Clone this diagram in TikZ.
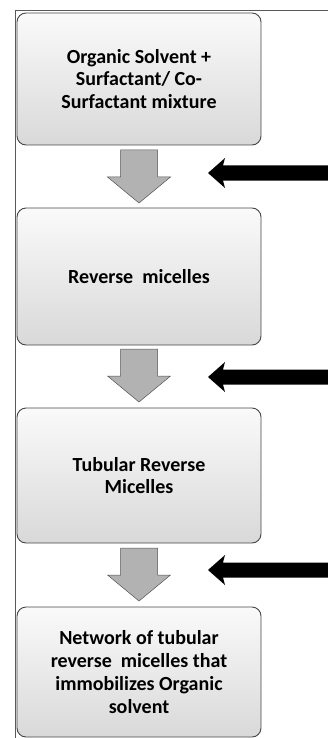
\documentclass[tikz,border=0pt]{standalone}
\usepackage{fontspec}
\setmainfont{Carlito}
\tikzset{
  flowbox/.style={rounded corners=9pt, draw=gray!55!black, line width=0.9pt,
    top color=gray!4, bottom color=gray!30, align=center,
    font=\fontsize{20}{22.8}\selectfont\bfseries, text=black,
    inner sep=0pt, minimum width=244pt},
  framepen/.style={draw=gray!70!black, line width=0.9pt},
  pics/grayarr/.style={code={
    \filldraw[fill=gray!60, draw=gray!65!black, line width=0.5pt]
      (-18.5,0) -- (18.5,0) -- (18.5,27) -- (31.5,27) -- (0,53) -- (-31.5,27) -- (-18.5,27) -- cycle;}},
  pics/blackarr/.style={code={
    \fill[black] (0,0) -- (17,-15) -- (15,-7.5) -- (125,-7.5) -- (125,7.5) -- (15,7.5) -- (17,15) -- cycle;}}
}
\begin{document}
\begin{tikzpicture}[x=1pt,y=-1pt]
\useasboundingbox (0,0) rectangle (328,738);
\coordinate (frTL) at (15,10.5);
\coordinate (frTR) at (328,10.5);
\coordinate (frBL) at (15,738);
\draw[framepen] (frTR) -- (frTL) -- (frBL);

\node[flowbox, minimum height=132pt] (b1) at (139,79) {Organic Solvent +\\Surfactant/ Co-\\Surfactant mixture};
\node[flowbox, minimum height=137pt] (b2) at (139,276.5) {Reverse\ \ micelles};
\node[flowbox, minimum height=135pt] (b3) at (139,475.5) {Tubular Reverse\\Micelles};
\node[flowbox, minimum height=130pt] (b4) at (139,672) {Network of tubular\\reverse\ \ micelles that\\immobilizes Organic\\solvent};

\pic at (139,150) {grayarr};
\pic at (139,349) {grayarr};
\pic at (139,548) {grayarr};

\pic at (208,173) {blackarr};
\pic at (208,377) {blackarr};
\pic at (208,570) {blackarr};
\end{tikzpicture}
\end{document}
